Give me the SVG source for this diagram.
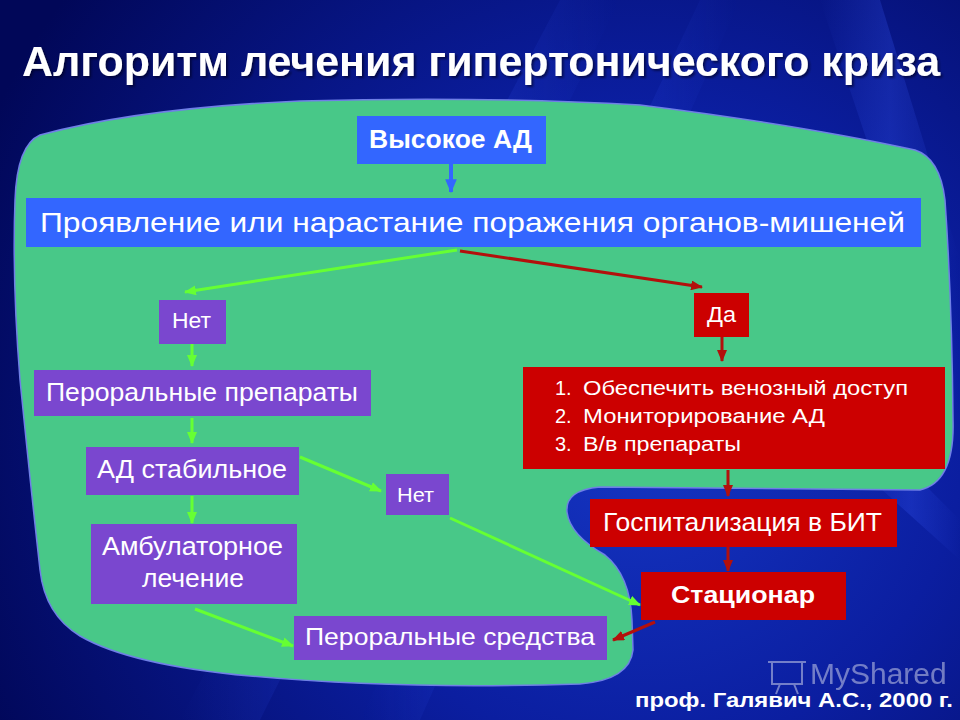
<svg xmlns="http://www.w3.org/2000/svg" width="960" height="720" viewBox="0 0 960 720">
<defs>
<radialGradient id="bg" cx="640" cy="430" r="720" gradientUnits="userSpaceOnUse">
<stop offset="0" stop-color="#1536c4"/>
<stop offset="0.45" stop-color="#0b1ea0"/>
<stop offset="1" stop-color="#010758"/>
</radialGradient>
<linearGradient id="streak" x1="0" y1="0" x2="1" y2="0">
<stop offset="0" stop-color="#3a5cff" stop-opacity="0"/>
<stop offset="0.5" stop-color="#3a5cff" stop-opacity="0.3"/>
<stop offset="1" stop-color="#3a5cff" stop-opacity="0"/>
</linearGradient>
<filter id="shadow" x="-5%" y="-20%" width="110%" height="150%">
<feDropShadow dx="2" dy="2" stdDeviation="0.8" flood-color="#000022" flood-opacity="0.6"/>
</filter>
<marker id="ag" viewBox="0 0 12 10" refX="11" refY="5" markerWidth="12" markerHeight="10" markerUnits="userSpaceOnUse" orient="auto"><path d="M0,0 L12,5 L0,10 z" fill="#66ff33"/></marker>
<marker id="ar" viewBox="0 0 12 10" refX="11" refY="5" markerWidth="12" markerHeight="10" markerUnits="userSpaceOnUse" orient="auto"><path d="M0,0 L12,5 L0,10 z" fill="#b3100c"/></marker>
<marker id="ab" viewBox="0 0 12 10" refX="11" refY="5" markerWidth="14" markerHeight="12" markerUnits="userSpaceOnUse" orient="auto"><path d="M0,0 L12,5 L0,10 z" fill="#3366ff"/></marker>
</defs>
<style>
text{font-family:"Liberation Sans",Arial,sans-serif;fill:#ffffff}
.b{font-weight:bold}
.blue{fill:#3366ff}
.purple{fill:#7a47cf}
.red{fill:#cc0000}
.lg{stroke:#66ff33;stroke-width:3;fill:none;marker-end:url(#ag)}
.lr{stroke:#b3100c;stroke-width:3;fill:none;marker-end:url(#ar)}
.lb{stroke:#3366ff;stroke-width:4;fill:none;marker-end:url(#ab)}
</style>
<rect width="960" height="720" fill="url(#bg)"/>
<g opacity="0.8">
<polygon points="560,0 620,0 260,720 180,720" fill="url(#streak)"/>
<polygon points="700,0 740,0 420,720 360,720" fill="url(#streak)"/>
<polygon points="820,0 880,0 960,260 960,420" fill="url(#streak)"/>
<polygon points="880,440 960,520 960,560 860,470" fill="url(#streak)"/>
</g>
<text class="b" x="22" y="76" font-size="42" textLength="918" lengthAdjust="spacingAndGlyphs" filter="url(#shadow)">Алгоритм лечения гипертонического криза</text>
<path id="blob" d="M 40,135 Q 140,108 300,101 Q 480,96 640,105 Q 800,125 915,150 Q 940,158 945,200 Q 952,300 953,420 Q 955,482 920,490 L 600,487 Q 565,490 567,512 Q 570,535 605,555 Q 630,575 632,620 L 633,650 Q 630,680 580,684 Q 400,690 250,676 Q 130,665 80,636 Q 45,615 40,570 Q 30,480 20,380 Q 12,280 15,200 Q 17,145 40,135 Z" fill="#48c888" stroke="#6f7fe6" stroke-width="1.5"/>
<g id="connectors">
<line class="lb" x1="451" y1="164" x2="451" y2="192"/>
<line class="lg" x1="457" y1="250" x2="185" y2="292"/>
<line class="lr" x1="460" y1="251" x2="702" y2="287"/>
<line class="lg" x1="192" y1="344" x2="192" y2="366"/>
<line class="lg" x1="192" y1="418" x2="192" y2="443"/>
<line class="lg" x1="192" y1="496" x2="192" y2="523"/>
<line class="lg" x1="300" y1="457" x2="381" y2="491"/>
<line class="lg" x1="450" y1="518" x2="640" y2="605"/>
<line class="lg" x1="195" y1="609" x2="293" y2="646"/>
<line class="lr" x1="722" y1="337" x2="722" y2="361"/>
<line class="lr" x1="728" y1="470" x2="728" y2="496"/>
<line class="lr" x1="728" y1="547" x2="728" y2="571"/>
<line class="lr" x1="655" y1="622" x2="613" y2="640"/>
</g>
<g id="n-high">
<rect class="blue" x="357" y="116" width="189" height="48"/>
<text class="b" x="369" y="148" font-size="25" textLength="163" lengthAdjust="spacingAndGlyphs">Высокое АД</text>
</g>
<g id="n-organs">
<rect class="blue" x="26" y="198" width="895" height="49"/>
<text x="40" y="232" font-size="28" textLength="865" lengthAdjust="spacingAndGlyphs">Проявление  или нарастание  поражения  органов-мишеней</text>
</g>
<g id="n-no1">
<rect class="purple" x="159" y="300" width="67" height="44"/>
<text x="172" y="328" font-size="22" textLength="39" lengthAdjust="spacingAndGlyphs">Нет</text>
</g>
<g id="n-oral">
<rect class="purple" x="34" y="370" width="337" height="46"/>
<text x="46" y="401" font-size="25" textLength="312" lengthAdjust="spacingAndGlyphs">Пероральные препараты</text>
</g>
<g id="n-stable">
<rect class="purple" x="86" y="447" width="213" height="48"/>
<text x="97" y="478" font-size="25" textLength="190" lengthAdjust="spacingAndGlyphs">АД стабильное</text>
</g>
<g id="n-ambul">
<rect class="purple" x="91" y="524" width="206" height="80"/>
<text x="102" y="555" font-size="25" textLength="181" lengthAdjust="spacingAndGlyphs">Амбулаторное</text>
<text x="142" y="587" font-size="25" textLength="102" lengthAdjust="spacingAndGlyphs">лечение</text>
</g>
<g id="n-no2">
<rect class="purple" x="386" y="474" width="63" height="41"/>
<text x="397" y="502" font-size="21" textLength="37" lengthAdjust="spacingAndGlyphs">Нет</text>
</g>
<g id="n-oral2">
<rect class="purple" x="294" y="616" width="313" height="44"/>
<text x="305" y="645" font-size="24" textLength="290" lengthAdjust="spacingAndGlyphs">Пероральные средства</text>
</g>
<g id="n-yes">
<rect class="red" x="694" y="293" width="55" height="44"/>
<text x="707" y="322" font-size="22" textLength="29" lengthAdjust="spacingAndGlyphs">Да</text>
</g>
<g id="n-steps">
<rect class="red" x="523" y="367" width="422" height="102"/>
<text x="555" y="395" font-size="20">1.</text>
<text x="583" y="395" font-size="20" textLength="325" lengthAdjust="spacingAndGlyphs">Обеспечить венозный доступ</text>
<text x="555" y="423" font-size="20">2.</text>
<text x="583" y="423" font-size="20" textLength="242" lengthAdjust="spacingAndGlyphs">Мониторирование  АД</text>
<text x="555" y="451" font-size="20">3.</text>
<text x="583" y="451" font-size="20" textLength="158" lengthAdjust="spacingAndGlyphs">В/в препараты</text>
</g>
<g id="n-hosp">
<rect class="red" x="590" y="499" width="307" height="48"/>
<text x="603" y="531" font-size="26" textLength="279" lengthAdjust="spacingAndGlyphs">Госпитализация в БИТ</text>
</g>
<g id="n-stac">
<rect class="red" x="641" y="572" width="205" height="48"/>
<text class="b" x="671" y="603" font-size="24" textLength="144" lengthAdjust="spacingAndGlyphs">Стационар</text>
</g>
<g id="watermark" opacity="0.55">
<g fill="none" stroke="#c8cce8" stroke-width="2">
<rect x="772" y="662" width="30" height="22"/>
<path d="M768,662 L806,662 M780,684 L776,694 M794,684 L798,694"/>
</g>
<text x="810" y="684" font-size="30" style="fill:#c8cce8">MyShared</text>
</g>
<text class="b" x="635" y="707" font-size="20" textLength="318" lengthAdjust="spacingAndGlyphs">проф. Галявич А.С., 2000 г.</text>
</svg>
